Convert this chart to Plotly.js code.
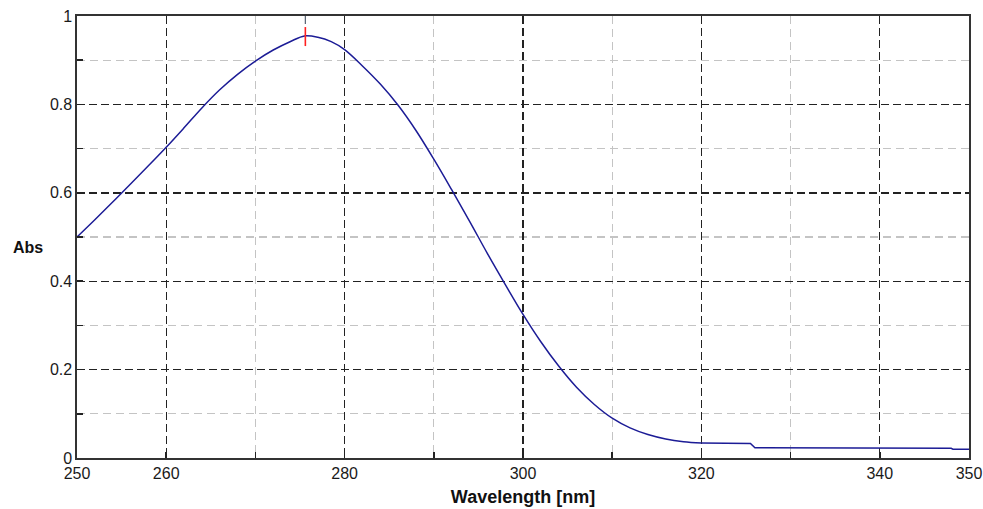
<!DOCTYPE html>
<html>
<head>
<meta charset="utf-8">
<script src="https://cdn.plot.ly/plotly-3.0.1.min.js"></script>
<style>html,body{margin:0;padding:0;background:#fff;}#chart{width:983px;height:509px;}</style>
</head>
<body>
<div id="chart"></div>
<script>
// smooth band part of the spectrum
const wavelength = [250,252,254,256,258,260,262,264,266,268,270,272,274,275.5,277,278.5,280,282,284,286,288,290,292,294,296,298,300,302,304,306,308,310,312,314,316,318,320];
const absorbance = [0.500,0.539,0.579,0.620,0.661,0.703,0.747,0.792,0.833,0.868,0.898,0.923,0.943,0.955,0.952,0.942,0.924,0.887,0.846,0.798,0.741,0.676,0.607,0.536,0.463,0.393,0.325,0.263,0.208,0.160,0.121,0.090,0.068,0.053,0.043,0.037,0.034];
// baseline tail (stepped)
const tailWavelength = [320,325.5,326,348,348.2,350];
const tailAbsorbance = [0.034,0.033,0.023,0.022,0.020,0.020];
const peakX = [275.6, 275.6];
const peakMarkY = [0.932, 0.975];
const peakTickY = [0.982, 1.01];
const xMajorTicks = [250,260,280,300,320,340,350];
const xMinorTicks = [270,290,310,330];
const yMajorTicks = [0,0.2,0.4,0.6,0.8,1];
const yMinorTicks = [0.1,0.3,0.5,0.7,0.9];

const traces = [
  {x: wavelength, y: absorbance, mode: 'lines', line: {color: '#1c1c96', width: 1.5, shape: 'spline', smoothing: 1}, hoverinfo: 'skip'},
  {x: tailWavelength, y: tailAbsorbance, mode: 'lines', line: {color: '#1c1c96', width: 1.5}, hoverinfo: 'skip'},
  {x: peakX, y: peakMarkY, mode: 'lines', line: {color: '#ff2020', width: 1.6}, hoverinfo: 'skip'},
  {x: peakX, y: peakTickY, mode: 'lines', line: {color: '#556070', width: 1.2}, cliponaxis: false, hoverinfo: 'skip'}
];

const tickFont = {family: 'Liberation Sans, Arial, sans-serif', size: 16, color: '#1a1a1a'};
const layout = {
  width: 983, height: 509,
  margin: {l: 77, r: 14, t: 16, b: 51},
  paper_bgcolor: '#ffffff', plot_bgcolor: '#ffffff',
  showlegend: false,
  xaxis: {
    range: [250, 350], tickmode: 'array', tickvals: xMajorTicks,
    ticks: 'inside', ticklen: 6, tickwidth: 1.5, tickcolor: '#222',
    showgrid: true, gridcolor: '#222', gridwidth: 1.4, griddash: '8px,4px',
    showline: true, linecolor: '#333', linewidth: 1.6, mirror: true,
    zeroline: false, tickfont: tickFont,
    minor: {tickmode: 'array', tickvals: xMinorTicks, ticks: 'inside', ticklen: 6, tickwidth: 1.5, tickcolor: '#222',
            showgrid: true, gridcolor: '#c4c4c4', gridwidth: 1.4, griddash: '8px,5px'},
    title: {text: '<b>Wavelength [nm]</b>', font: {family: 'Liberation Sans, Arial, sans-serif', size: 18, color: '#111'}, standoff: 9}
  },
  yaxis: {
    range: [0, 1], tickmode: 'array', tickvals: yMajorTicks,
    ticks: 'inside', ticklen: 6, tickwidth: 1.5, tickcolor: '#222',
    showgrid: true, gridcolor: '#222', gridwidth: 1.4, griddash: '8px,4px',
    showline: true, linecolor: '#333', linewidth: 1.6, mirror: true,
    zeroline: false, tickfont: tickFont,
    minor: {tickmode: 'array', tickvals: yMinorTicks, ticks: 'inside', ticklen: 6, tickwidth: 1.5, tickcolor: '#222',
            showgrid: true, gridcolor: '#c4c4c4', gridwidth: 1.4, griddash: '8px,5px'},
    title: {text: '<b>Abs</b>', font: {family: 'Liberation Sans, Arial, sans-serif', size: 16, color: '#111'}}
  }
};
Plotly.newPlot('chart', traces, layout, {displayModeBar: false, staticPlot: true}).then(function(){
  const t = document.querySelector('.ytitle');
  if (t) { t.setAttribute('transform', ''); t.setAttribute('x', '28'); t.setAttribute('y', '253'); t.setAttribute('text-anchor','middle'); }
});
</script>
</body>
</html>
